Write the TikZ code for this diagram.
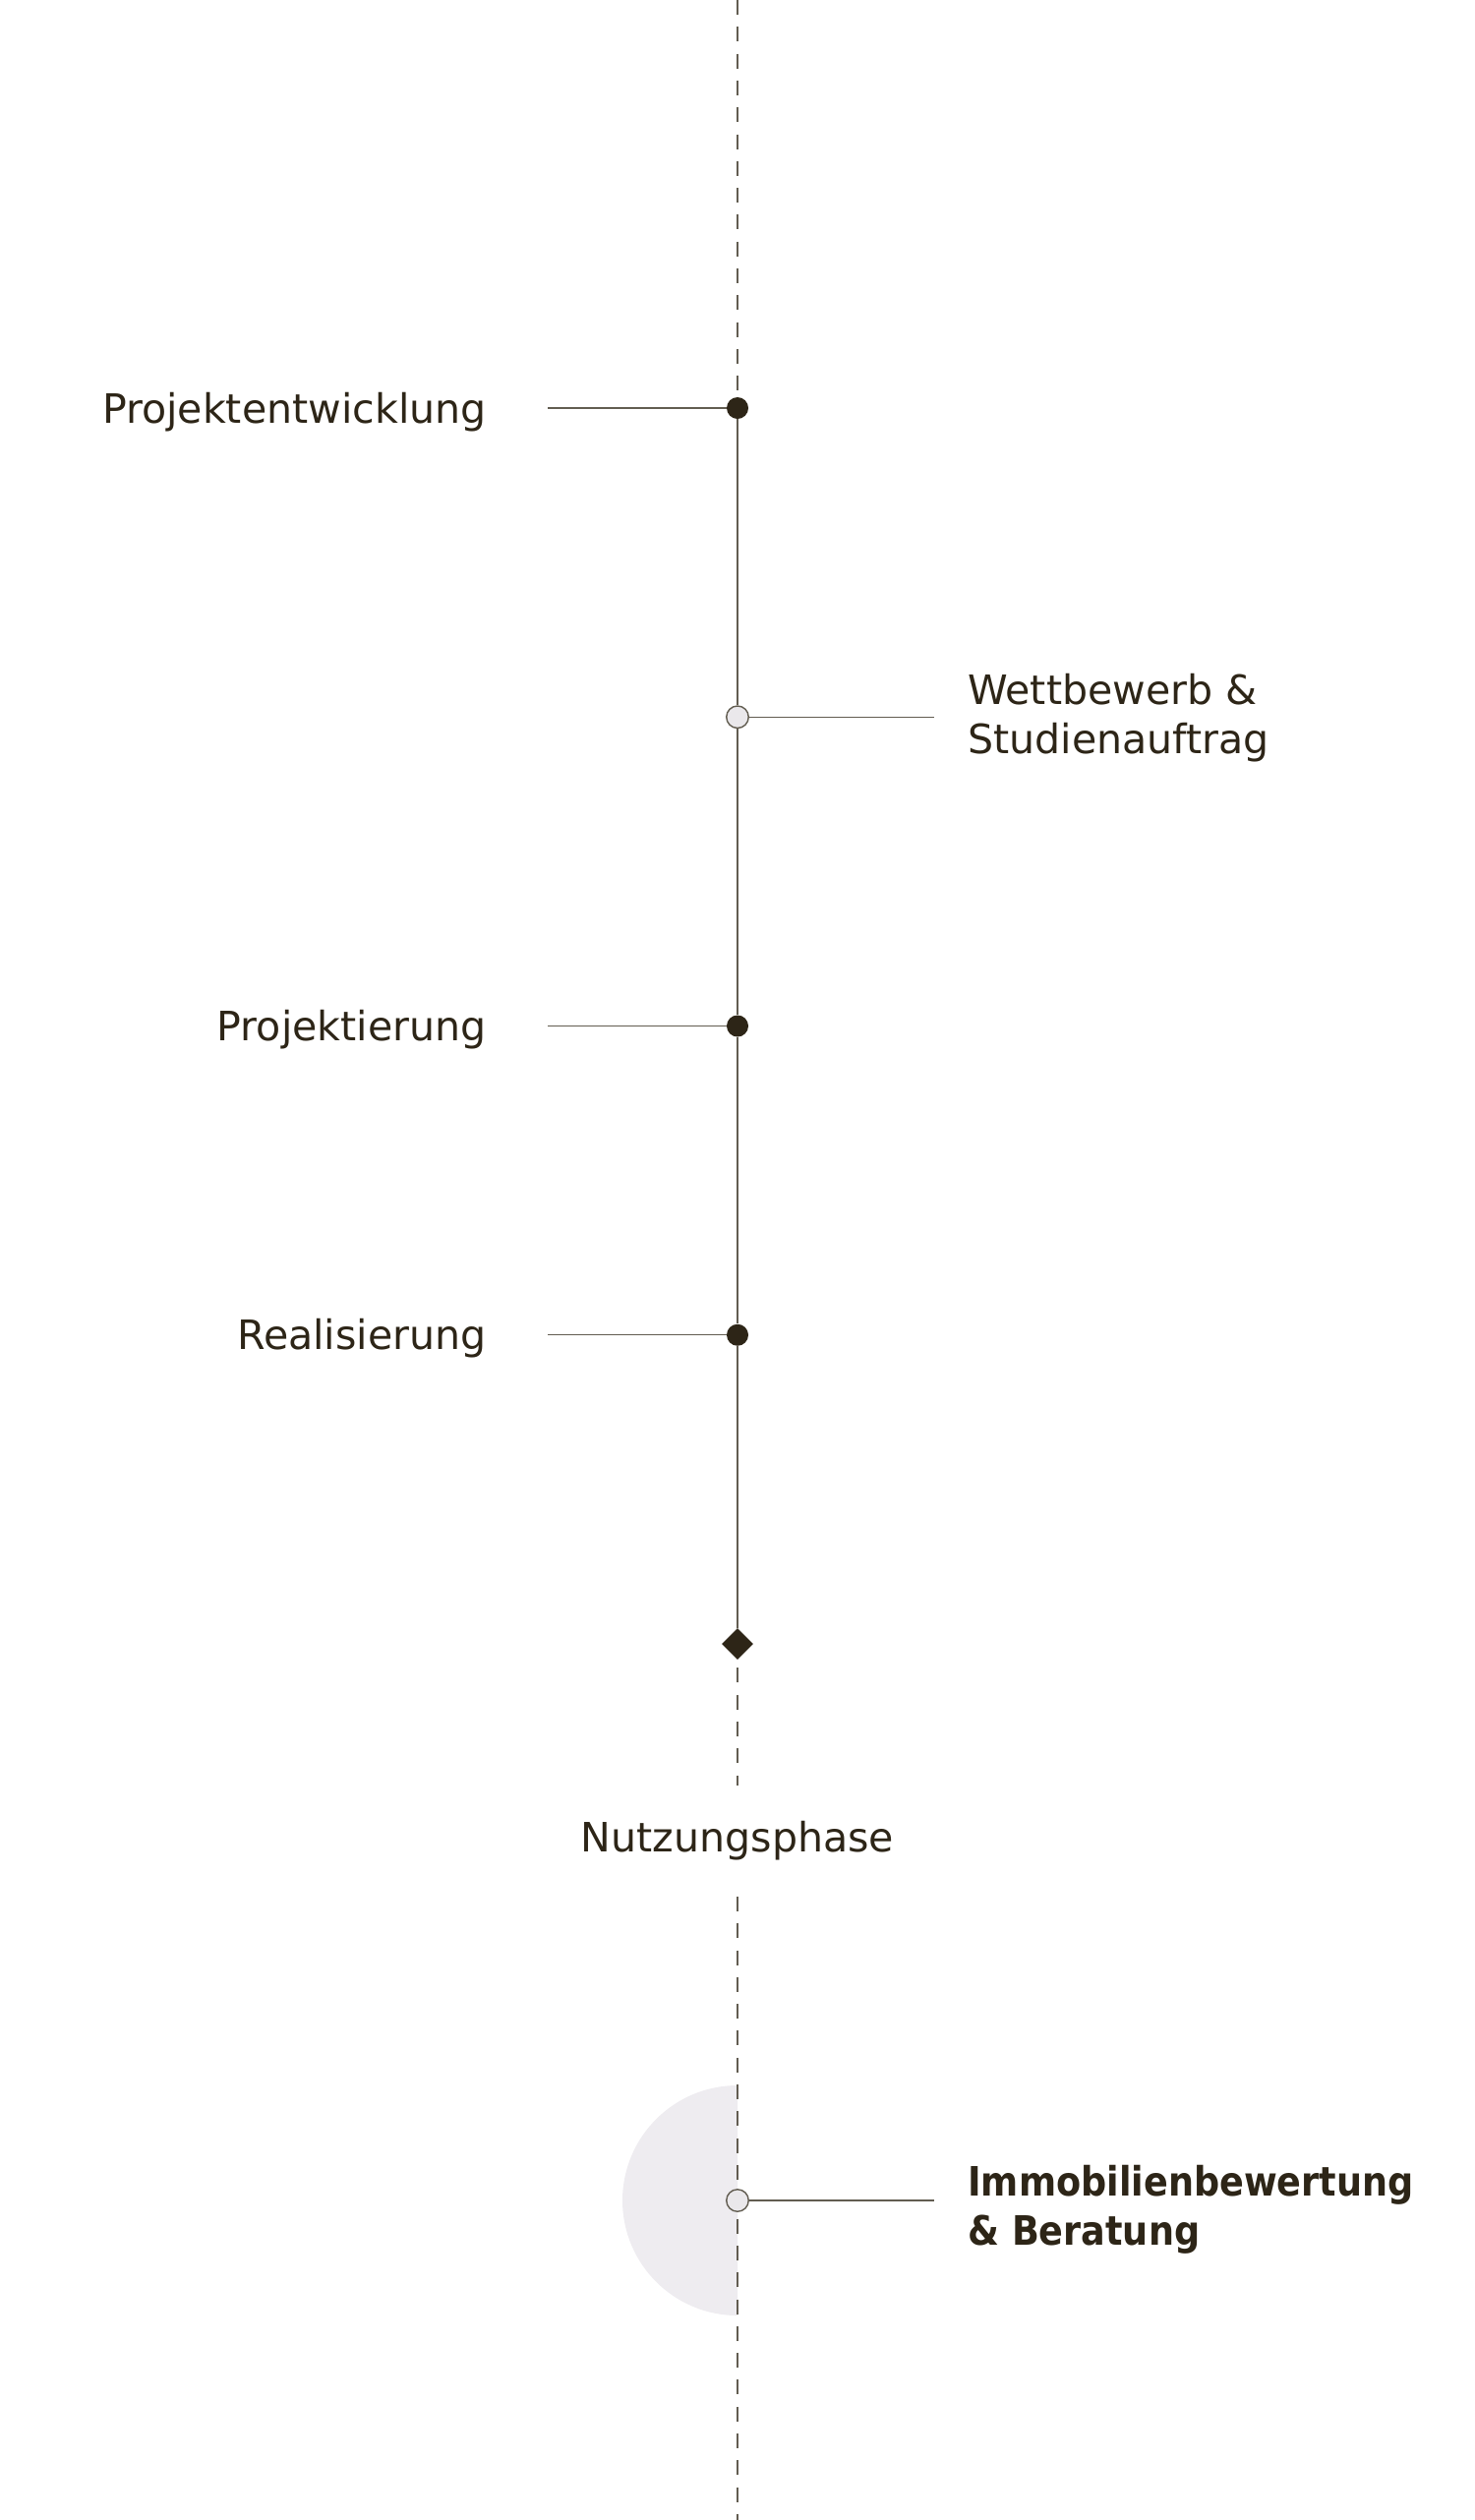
\documentclass[tikz,border=0pt]{standalone}
\usepackage{fontspec}
\setmainfont{DejaVu Sans}
\newfontfamily\strongfont[FakeStretch=0.89]{DejaVu Sans}
\usepackage{tikz}
\usetikzlibrary{shapes.geometric,backgrounds}

\definecolor{ink}{HTML}{2D2517}
\definecolor{rule}{HTML}{625D51}
\definecolor{pale}{HTML}{EAE8EB}
\definecolor{halo}{HTML}{EEECF0}

\begin{document}
\begin{tikzpicture}[
    milestone/.style={circle,fill=ink,inner sep=0pt,minimum size=0.44cm},
    openstop/.style={circle,draw=rule,fill=pale,line width=0.8pt,inner sep=0pt,minimum size=0.45cm},
    endmark/.style={diamond,fill=ink,inner sep=0pt,minimum size=0.64cm},
    phasetext/.style={text=ink,inner sep=0pt,align=left,font=\fontsize{23.4}{28.45}\selectfont},
    boldtext/.style={phasetext,font=\strongfont\bfseries\fontsize{23.4}{28.45}\selectfont},
    spineline/.style={draw=rule,line width=0.85pt},
    armline/.style={draw=rule,line width=0.8pt},
    dashline/.style={draw=rule,line width=0.85pt,dash pattern=on 8.54pt off 7pt}
  ]
  \useasboundingbox (0,0) rectangle (30,-51.26);
  \def\halo{(15,-42.42) arc (90:270:2.34) -- cycle}

  % Points on the time axis
  \coordinate (top) at (15,0);
  \coordinate (bottom) at (15,-51.26);
  \node[milestone] (dev) at (15,-8.3) {};
  \node[openstop] (comp) at (15,-14.585) {};
  \node[milestone] (plan) at (15,-20.87) {};
  \node[milestone] (build) at (15,-27.155) {};
  \node[endmark] (done) at (15,-33.44) {};
  \node[openstop] (valuation) at (15,-44.76) {};

  % Free ends of the arms
  \coordinate (devend) at (11.14,-8.3);
  \coordinate (compend) at (19.0,-14.585);
  \coordinate (planend) at (11.14,-20.87);
  \coordinate (buildend) at (11.14,-27.155);
  \coordinate (valuationend) at (19.0,-44.76);

  % Labels
  \node[phasetext,anchor=base east] (devtext) at (9.9,-8.6) {Projektentwicklung};
  \node[phasetext,anchor=west] (comptext) at (19.68,-14.6) {Wettbewerb \&\\Studienauftrag};
  \node[phasetext,anchor=base east] (plantext) at (9.9,-21.17) {Projektierung};
  \node[phasetext,anchor=base east] (buildtext) at (9.9,-27.45) {Realisierung};
  \node[phasetext,anchor=base] (usetext) at (15,-37.66) {Nutzungsphase};
  \node[boldtext,anchor=west] (valuationtext) at (19.68,-44.94) {Immobilienbewertung\\\& Beratung};

  \begin{scope}[on background layer]
    % Draw the half disc behind the last point
    \fill[halo] \halo;

    % Draw the axis
    \draw[dashline] (top) -- (dev);
    \draw[spineline] (dev) -- (comp) -- (plan) -- (build) -- (done);
    \draw[dashline,shorten <=0.16cm,shorten >=0.7cm] (done) -- (usetext);
    \draw[dashline,shorten <=0.74cm] (usetext) -- (bottom);

    % Draw the arms
    \draw[armline] (dev) -- (devend);
    \draw[armline] (comp) -- (compend);
    \draw[armline] (plan) -- (planend);
    \draw[armline] (build) -- (buildend);
    \draw[armline] (valuation) -- (valuationend);
  \end{scope}
\end{tikzpicture}
\end{document}
